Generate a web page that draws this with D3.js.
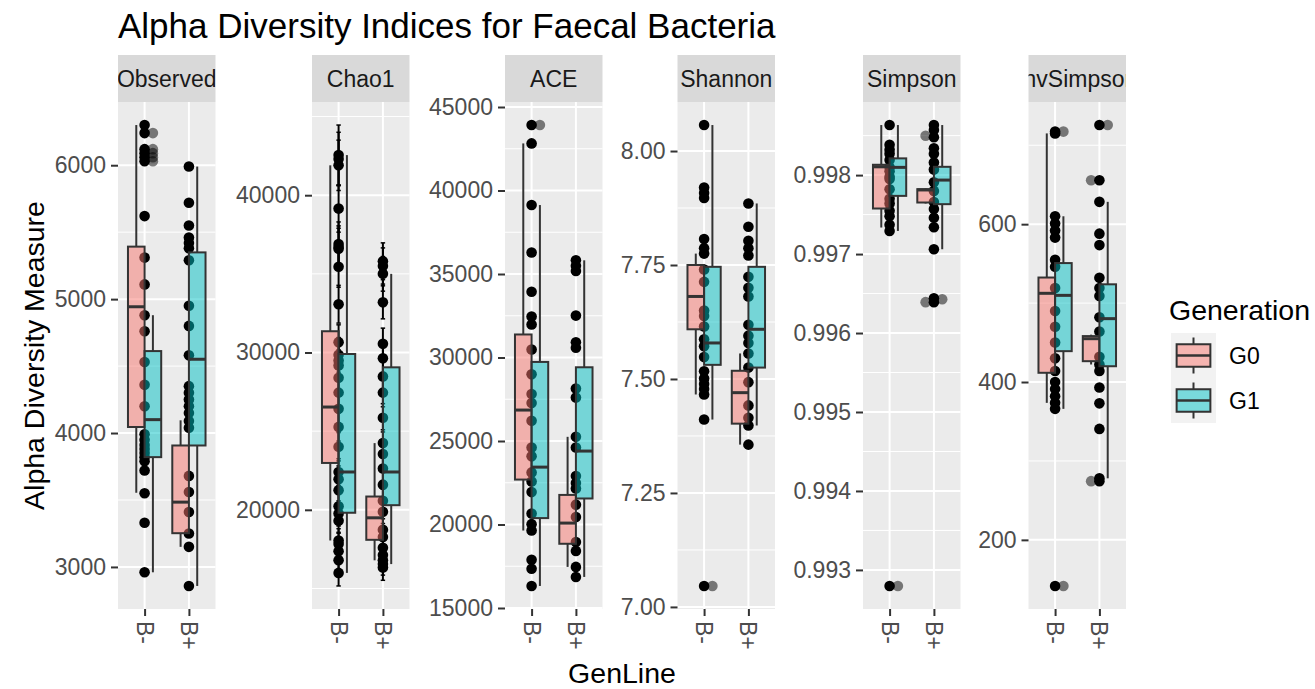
<!DOCTYPE html>
<html>
<head>
<meta charset="utf-8">
<script src="https://cdn.jsdelivr.net/npm/d3@7"></script>
<style>
  body { margin: 0; background: #fff; }
  text { font-family: "Liberation Sans", Arial, sans-serif; }
</style>
</head>
<body>
<svg id="chart" width="1315" height="689"></svg>
<script>
// ---- data -------------------------------------------------------------
const indexNames = ["Observed", "Chao1", "ACE", "Shannon", "Simpson", "InvSimpson"];
const genLines = ["B-", "B+"];
const generations = ["G0", "G1"];

// per-sample alpha diversity values, one array per GenLine
const observedBminus = [6300, 6240, 6120, 6090, 6060, 6030, 5620, 5310, 5110, 4880, 4760, 4530, 4360, 4200, 3990, 3950, 3910, 3880, 3850, 3820, 3790, 3720, 3550, 3330, 2960];
const observedBplus = [5990, 5720, 5550, 5460, 5420, 5380, 5290, 4950, 4800, 4580, 4350, 4300, 4250, 4200, 4150, 4090, 4040, 3680, 3560, 3410, 3250, 3150, 2858];
const chao1Bminus = [42550, 42300, 41900, 39150, 36900, 36700, 36600, 35450, 33070, 30660, 29850, 29500, 29170, 28400, 27450, 26420, 25270, 24010, 22400, 21940, 21250, 20220, 19770, 19310, 18050, 17820, 17360, 16800, 15990];
const chao1Bplus = [35800, 35500, 35000, 33190, 30550, 29630, 28480, 27450, 25850, 24240, 23550, 22630, 21600, 20570, 19880, 18730, 18270, 17590, 17130, 16790, 16550, 16330];
const aceBminus = [43920, 42820, 39130, 36290, 33940, 32450, 31980, 30480, 28990, 27810, 27280, 26210, 24610, 24080, 23120, 22580, 21940, 20660, 20020, 19640, 17890, 17350, 16320];
const aceBplus = [35820, 35500, 35180, 32510, 30910, 30590, 28140, 27600, 25250, 24610, 22900, 22480, 22160, 21190, 20450, 18950, 18420, 17460, 16860];
const shannonBminus = [8.057, 7.920, 7.908, 7.897, 7.807, 7.787, 7.775, 7.740, 7.713, 7.650, 7.638, 7.615, 7.587, 7.572, 7.548, 7.517, 7.501, 7.489, 7.478, 7.466, 7.411, 7.046];
const shannonBplus = [7.885, 7.834, 7.803, 7.787, 7.771, 7.724, 7.700, 7.681, 7.619, 7.595, 7.579, 7.556, 7.525, 7.493, 7.442, 7.415, 7.398, 7.356];
const simpsonBminus = [0.998634, 0.998385, 0.998320, 0.998270, 0.998190, 0.998100, 0.998050, 0.997980, 0.997950, 0.997820, 0.997700, 0.997640, 0.997550, 0.997480, 0.997370, 0.997293, 0.992797];
const simpsonBplus = [0.998634, 0.998570, 0.998480, 0.998340, 0.998270, 0.998160, 0.998070, 0.997910, 0.997800, 0.997660, 0.997570, 0.997460, 0.997340, 0.997061, 0.996440, 0.996391];
const invSimpsonBminus = [717.3, 715, 610, 601, 592, 583, 555, 546, 519, 490, 470, 450, 430, 414, 400, 391, 382, 373.6, 366, 141.6];
const invSimpsonBplus = [725.6, 655.7, 628.3, 588, 573.5, 532, 519, 509, 482, 464, 432, 422.2, 414, 393, 373, 340.6, 278, 274.4];

// Chao1 standard errors, same order as the Chao1 samples
const chao1SeBminus = [1910, 1700, 1600, 1500, 1400, 1350, 1300, 1300, 1200, 1100, 1100, 1050, 1000, 1000, 950, 950, 900, 900, 850, 850, 800, 800, 800, 800, 750, 750, 750, 700, 830];
const chao1SeBplus = [1170, 1150, 1100, 1050, 1000, 950, 950, 900, 900, 850, 850, 800, 800, 750, 750, 700, 700, 700, 700, 700, 700, 810];

// boxplot summaries [lower whisker, Q1, median, Q3, upper whisker]
// order: B-/G0, B-/G1, B+/G0, B+/G1
const observedBoxes = [[3554, 4045, 4943, 5392, 6300], [2960, 3820, 4100, 4612, 4880], [3150, 3252, 3484, 3907, 4095], [2858, 3907, 4551, 5349, 5990]];
const chao1Boxes = [[18050, 22979, 26534, 31352, 41900], [15990, 19813, 22405, 29906, 42550], [16790, 18093, 19492, 20845, 24240], [16550, 20295, 22405, 29058, 35000]];
const aceBoxes = [[19640, 22690, 26853, 31379, 42820], [16320, 20383, 23436, 29735, 39130], [17460, 18846, 20085, 21771, 25250], [16860, 21558, 24397, 29415, 35820]];
const shannonBoxes = [[7.466, 7.609, 7.681, 7.750, 7.775], [7.411, 7.531, 7.579, 7.746, 8.057], [7.356, 7.402, 7.470, 7.518, 7.556], [7.398, 7.525, 7.609, 7.746, 7.885]];
const simpsonBoxes = [[0.997336, 0.997577, 0.998105, 0.998131, 0.998634], [0.997293, 0.997737, 0.998098, 0.998212, 0.998634], [0.997640, 0.997653, 0.997812, 0.997822, 0.997830], [0.997061, 0.997632, 0.997937, 0.998105, 0.998634]];
const invSimpsonBoxes = [[373.6, 411.7, 512.4, 532.4, 715], [366, 439.1, 509.8, 550.7, 610], [422.2, 426.4, 454.9, 458.2, 460], [278, 420, 480.3, 523.8, 628.3]];

// boxplot outliers [GenLine, Generation, value]
const observedOutliers = [["B-", "G1", 6240], ["B-", "G1", 6120], ["B-", "G1", 6090], ["B-", "G1", 6060], ["B-", "G1", 6030]];
const chao1Outliers = [];
const aceOutliers = [["B-", "G1", 43920]];
const shannonOutliers = [["B-", "G1", 7.046]];
const simpsonOutliers = [["B-", "G1", 0.992797], ["B+", "G0", 0.998499], ["B+", "G0", 0.996391], ["B+", "G1", 0.996427]];
const invSimpsonOutliers = [["B-", "G1", 717.3], ["B-", "G1", 141.6], ["B+", "G0", 655.7], ["B+", "G0", 274.4], ["B+", "G1", 725.6]];

// y-axis tick labels
const observedTicks = [3000, 4000, 5000, 6000];
const chao1Ticks = [20000, 30000, 40000];
const aceTicks = [15000, 20000, 25000, 30000, 35000, 40000, 45000];
const shannonTicks = [7.00, 7.25, 7.50, 7.75, 8.00];
const simpsonTicks = [0.993, 0.994, 0.995, 0.996, 0.997, 0.998];
const invSimpsonTicks = [200, 400, 600];

// ---- assemble facets -------------------------------------------------
const facets = [
  { name: "Observed", pts: [observedBminus, observedBplus], boxes: observedBoxes, outliers: observedOutliers, ticks: observedTicks, fmt: d3.format("d") },
  { name: "Chao1", pts: [chao1Bminus, chao1Bplus], se: [chao1SeBminus, chao1SeBplus], boxes: chao1Boxes, outliers: chao1Outliers, ticks: chao1Ticks, fmt: d3.format("d") },
  { name: "ACE", pts: [aceBminus, aceBplus], boxes: aceBoxes, outliers: aceOutliers, ticks: aceTicks, fmt: d3.format("d") },
  { name: "Shannon", pts: [shannonBminus, shannonBplus], boxes: shannonBoxes, outliers: shannonOutliers, ticks: shannonTicks, fmt: d3.format(".2f") },
  { name: "Simpson", pts: [simpsonBminus, simpsonBplus], boxes: simpsonBoxes, outliers: simpsonOutliers, ticks: simpsonTicks, fmt: d3.format(".3f") },
  { name: "InvSimpson", pts: [invSimpsonBminus, invSimpsonBplus], boxes: invSimpsonBoxes, outliers: invSimpsonOutliers, ticks: invSimpsonTicks, fmt: d3.format("d") }
];

// ---- layout ------------------------------------------------------------
const W = 1315, H = 689;
const panelLeft = [118, 312, 505, 677.5, 863, 1028.5];
const panelW = 97.5;
const stripTop = 55, panelTop = 102, panelBottom = 609;
const fillColor = d3.scaleOrdinal().domain(generations).range(["#F8766D", "#00BFC4"]);
const ink = "#333333";
const tickText = "#4D4D4D";
const fs = 23;
const ptR = 5.3;

const svg = d3.select("#chart");
svg.append("rect").attr("width", W).attr("height", H).attr("fill", "#fff");

// title
svg.append("text").attr("x", 118).attr("y", 38)
  .attr("font-size", 35).attr("fill", "#000")
  .text("Alpha Diversity Indices for Faecal Bacteria");

facets.forEach((f, i) => {
  const left = panelLeft[i], right = left + panelW;
  const g = svg.append("g");

  // value extent (points, error bars, boxes, outliers) with 5% padding
  const vals = [];
  f.pts.forEach((arr, j) => arr.forEach((v, k) => {
    if (f.se) { vals.push(v - f.se[j][k], v + f.se[j][k]); } else vals.push(v);
  }));
  f.boxes.forEach(b => vals.push(...b));
  f.outliers.forEach(o => vals.push(o[2]));
  const [lo, hi] = d3.extent(vals);
  const pad = (hi - lo) * 0.05;
  const y = d3.scaleLinear().domain([lo - pad, hi + pad]).range([panelBottom, panelTop]);
  const x = d3.scalePoint().domain(genLines).range([left, right]).padding(0.6);
  const step = x.step();

  // panel background and grid
  g.append("rect").attr("x", left).attr("y", panelTop).attr("width", panelW)
    .attr("height", panelBottom - panelTop).attr("fill", "#EBEBEB");
  const tStep = f.ticks[1] - f.ticks[0];
  const minors = f.ticks.map(t => t - tStep / 2).concat([f.ticks[f.ticks.length - 1] + tStep / 2])
    .filter(t => t >= y.domain()[0] && t <= y.domain()[1]);
  g.selectAll(".minor").data(minors).join("line")
    .attr("x1", left).attr("x2", right).attr("y1", d => y(d)).attr("y2", d => y(d))
    .attr("stroke", "#fff").attr("stroke-width", 1);
  g.selectAll(".major").data(f.ticks).join("line")
    .attr("x1", left).attr("x2", right).attr("y1", d => y(d)).attr("y2", d => y(d))
    .attr("stroke", "#fff").attr("stroke-width", 2);
  g.selectAll(".vgrid").data(genLines).join("line")
    .attr("x1", d => x(d)).attr("x2", d => x(d)).attr("y1", panelTop).attr("y2", panelBottom)
    .attr("stroke", "#fff").attr("stroke-width", 2);

  // strip with clipped label
  const clipId = "strip-clip-" + i;
  svg.append("clipPath").attr("id", clipId).append("rect")
    .attr("x", left).attr("y", stripTop).attr("width", panelW).attr("height", panelTop - stripTop);
  g.append("rect").attr("x", left).attr("y", stripTop).attr("width", panelW)
    .attr("height", panelTop - stripTop).attr("fill", "#D9D9D9");
  g.append("text").attr("clip-path", `url(#${clipId})`)
    .attr("x", left + panelW / 2).attr("y", (stripTop + panelTop) / 2)
    .attr("text-anchor", "middle").attr("dominant-baseline", "central")
    .attr("font-size", fs).attr("fill", "#1A1A1A").text(f.name);

  // y axis
  const yAxis = g.append("g").attr("transform", `translate(${left},0)`)
    .call(d3.axisLeft(y).tickValues(f.ticks).tickFormat(f.fmt).tickSize(7).tickPadding(5));
  yAxis.select(".domain").remove();
  yAxis.selectAll(".tick line").attr("stroke", ink).attr("stroke-width", 2);
  yAxis.selectAll(".tick text").attr("font-size", fs).attr("fill", tickText)
    .attr("font-family", "Liberation Sans, Arial, sans-serif");

  // x axis, labels rotated to read downward
  const xAxis = g.append("g").attr("transform", `translate(0,${panelBottom})`)
    .call(d3.axisBottom(x).tickSize(7).tickFormat(""));
  xAxis.select(".domain").remove();
  xAxis.selectAll(".tick line").attr("stroke", ink).attr("stroke-width", 2);
  g.selectAll(".xlab").data(genLines).join("text")
    .attr("transform", d => `translate(${x(d)},${panelBottom + 12}) rotate(90)`)
    .attr("text-anchor", "start").attr("dominant-baseline", "central")
    .attr("font-size", fs).attr("fill", tickText).text(d => d);

  // sample points
  const pts = [];
  f.pts.forEach((arr, j) => arr.forEach((v, k) => pts.push({ gl: genLines[j], v, se: f.se ? f.se[j][k] : null })));
  g.selectAll(".pt").data(pts).join("circle")
    .attr("cx", d => x(d.gl)).attr("cy", d => y(d.v)).attr("r", ptR).attr("fill", "#000");

  // Chao1 error bars
  if (f.se) {
    const cap = step * 0.05;
    const eb = g.selectAll(".eb").data(pts).join("g");
    eb.append("line").attr("x1", d => x(d.gl)).attr("x2", d => x(d.gl))
      .attr("y1", d => y(d.v - d.se)).attr("y2", d => y(d.v + d.se))
      .attr("stroke", "#000").attr("stroke-width", 2);
    [-1, 1].forEach(s => eb.append("line")
      .attr("x1", d => x(d.gl) - cap).attr("x2", d => x(d.gl) + cap)
      .attr("y1", d => y(d.v + s * d.se)).attr("y2", d => y(d.v + s * d.se))
      .attr("stroke", "#000").attr("stroke-width", 1.5));
  }

  // dodged boxplots
  const boxW = step * 0.375;
  const boxData = f.boxes.map((b, k) => ({
    gl: genLines[Math.floor(k / 2)], gen: generations[k % 2], b
  }));
  const cx = d => x(d.gl) + (d.gen === "G0" ? -1 : 1) * boxW / 2;
  const bx = g.selectAll(".box").data(boxData).join("g");
  bx.append("line").attr("x1", cx).attr("x2", cx)
    .attr("y1", d => y(d.b[0])).attr("y2", d => y(d.b[1]))
    .attr("stroke", ink).attr("stroke-width", 2);
  bx.append("line").attr("x1", cx).attr("x2", cx)
    .attr("y1", d => y(d.b[3])).attr("y2", d => y(d.b[4]))
    .attr("stroke", ink).attr("stroke-width", 2);
  bx.append("rect")
    .attr("x", d => cx(d) - boxW / 2).attr("width", boxW)
    .attr("y", d => y(d.b[3])).attr("height", d => y(d.b[1]) - y(d.b[3]))
    .attr("fill", d => fillColor(d.gen)).attr("fill-opacity", 0.5)
    .attr("stroke", ink).attr("stroke-width", 2);
  bx.append("line")
    .attr("x1", d => cx(d) - boxW / 2).attr("x2", d => cx(d) + boxW / 2)
    .attr("y1", d => y(d.b[2])).attr("y2", d => y(d.b[2]))
    .attr("stroke", ink).attr("stroke-width", 3);

  // outliers at dodged positions
  g.selectAll(".out").data(f.outliers).join("circle")
    .attr("cx", d => cx({ gl: d[0], gen: d[1] })).attr("cy", d => y(d[2]))
    .attr("r", ptR).attr("fill", "#000").attr("fill-opacity", 0.5);
});

// axis titles
svg.append("text").attr("transform", `translate(44,${(panelTop + panelBottom) / 2}) rotate(-90)`)
  .attr("text-anchor", "middle").attr("font-size", 28.5).attr("fill", "#000")
  .text("Alpha Diversity Measure");
svg.append("text").attr("x", (panelLeft[0] + panelLeft[5] + panelW) / 2).attr("y", 683)
  .attr("text-anchor", "middle").attr("font-size", 28.5).attr("fill", "#000")
  .text("GenLine");

// legend
const lg = svg.append("g").attr("transform", "translate(1171,333)");
lg.append("text").attr("x", -2).attr("y", -13).attr("font-size", 28.5).attr("fill", "#000").text("Generation");
const key = 45;
generations.forEach((gname, k) => {
  const kg = lg.append("g").attr("transform", `translate(0,${k * key})`);
  kg.append("rect").attr("width", key).attr("height", key).attr("fill", "#F2F2F2");
  kg.append("line").attr("x1", key / 2).attr("x2", key / 2).attr("y1", key * 0.1).attr("y2", key * 0.25)
    .attr("stroke", ink).attr("stroke-width", 2);
  kg.append("line").attr("x1", key / 2).attr("x2", key / 2).attr("y1", key * 0.75).attr("y2", key * 0.9)
    .attr("stroke", ink).attr("stroke-width", 2);
  kg.append("rect").attr("x", key * 0.125).attr("y", key * 0.25).attr("width", key * 0.75).attr("height", key * 0.5)
    .attr("fill", fillColor(gname)).attr("fill-opacity", 0.5).attr("stroke", ink).attr("stroke-width", 2);
  kg.append("line").attr("x1", key * 0.125).attr("x2", key * 0.875).attr("y1", key / 2).attr("y2", key / 2)
    .attr("stroke", ink).attr("stroke-width", 2.5);
  kg.append("text").attr("x", key + 13).attr("y", key / 2).attr("dominant-baseline", "central")
    .attr("font-size", fs).attr("fill", "#000").text(gname);
});
</script>
</body>
</html>
